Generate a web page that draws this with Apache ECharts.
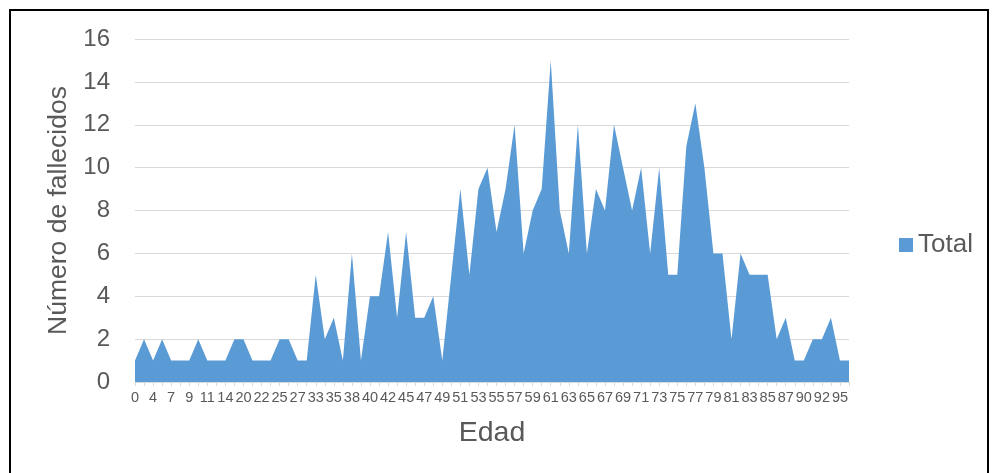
<!DOCTYPE html>
<html>
<head>
<meta charset="utf-8">
<script src="https://cdn.jsdelivr.net/npm/echarts@6/dist/echarts.min.js"></script>
<style>html,body{margin:0;padding:0;background:#fff}#c{width:995px;height:473px}</style>
</head>
<body>
<div id="c"></div>
<script>
var ages = ['0','2','4','5','7','8','9','10','11','12','14','16','20','21','22','23','25','26','27','30',
  '33','34','35','36','38','39','40','41','42','43','45','46','47','48','49','50','51','52','53','54',
  '55','56','57','58','59','60','61','62','63','64','65','66','67','68','69','70','71','72','73','74',
  '75','76','77','78','79','80','81','82','83','84','85','86','87','88','90','91','92','93','95','96'];
var total = [1,2,1,2,1,1,1,2,1,1,1,2,2,1,1,1,2,2,1,1,
  5,2,3,1,6,1,4,4,7,3,7,3,3,4,1,5,9,5,9,10,
  7,9,12,6,8,9,15,8,6,12,6,9,8,12,10,8,10,6,10,5,
  5,11,13,10,6,6,2,6,5,5,5,2,3,1,1,2,2,3,1,1];
var yTicks = {min:0, max:16, interval:2};
var seriesName = 'Total';
var font = 'Liberation Sans, Arial, sans-serif';
var chart = echarts.init(document.getElementById('c'), null, {renderer:'canvas'});
chart.setOption({
  animation:false,
  backgroundColor:'#fff',
  graphic:[{type:'rect', shape:{x:10,y:10,width:978,height:480}, style:{fill:'none', stroke:'#000', lineWidth:2}, silent:true}],
  grid:{left:135, right:146, top:39, bottom:91, containLabel:false},
  legend:{data:[{name:seriesName, icon:'rect'}], left:899, top:232, orient:'vertical',
    itemWidth:14, itemHeight:14, itemGap:5, padding:0,
    textStyle:{fontFamily:font, fontSize:26, color:'#595959', padding:[0,0,0,0]}},
  xAxis:{type:'category', data:ages, boundaryGap:false,
    name:'Edad', nameLocation:'middle', nameGap:37,
    nameTextStyle:{fontFamily:font, fontSize:28.5, color:'#595959'},
    axisLine:{lineStyle:{color:'#d9d9d9', width:1}},
    axisTick:{show:true, interval:0, length:4, lineStyle:{color:'#d9d9d9'}},
    axisLabel:{interval:1, fontFamily:font, fontSize:14.5, color:'#595959', margin:8},
    splitLine:{show:false}},
  yAxis:{type:'value', min:yTicks.min, max:yTicks.max, interval:yTicks.interval,
    name:'Número de fallecidos', nameLocation:'middle', nameGap:58, nameRotate:90,
    nameTextStyle:{fontFamily:font, fontSize:26.5, color:'#595959'},
    axisLine:{show:false}, axisTick:{show:false},
    axisLabel:{fontFamily:font, fontSize:24, color:'#595959', margin:25},
    splitLine:{lineStyle:{color:'#d9d9d9', width:1}}},
  series:[{name:seriesName, type:'line', data:total, symbol:'none',
    lineStyle:{width:0, color:'#5B9BD5'}, itemStyle:{color:'#5B9BD5'},
    areaStyle:{color:'#5B9BD5', opacity:1}}]
});
</script>
</body>
</html>
